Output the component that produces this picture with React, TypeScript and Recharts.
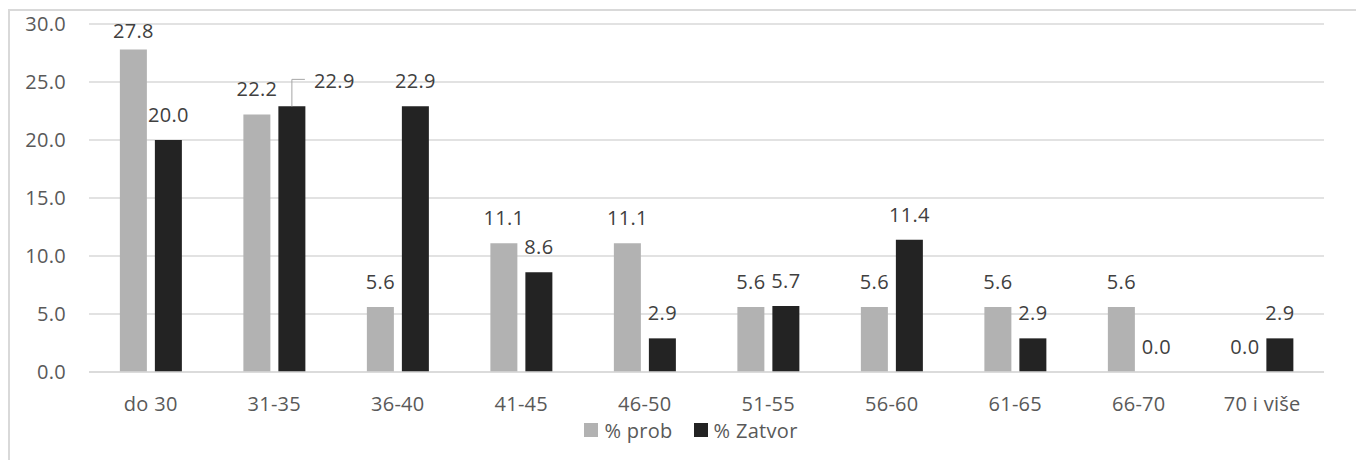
import React from "react";
import { BarChart, Bar, XAxis, YAxis, CartesianGrid, Legend, LabelList } from "recharts";

const categories = ["do 30", "31-35", "36-40", "41-45", "46-50", "51-55", "56-60", "61-65", "66-70", "70 i više"];
const probValues = [27.8, 22.2, 5.6, 11.1, 11.1, 5.6, 5.6, 5.6, 5.6, 0.0];
const zatvorValues = [20.0, 22.9, 22.9, 8.6, 2.9, 5.7, 11.4, 2.9, 0.0, 2.9];
const yTicks = [0, 5, 10, 15, 20, 25, 30];
const seriesNames = ["% prob", "% Zatvor"];
const seriesColors = ["#b2b2b2", "#232323"];
// labels moved aside with a leader line (per series, per index)
const zatvorLabelCallout = [false, true, false, false, false, false, false, false, false, false];

const data = categories.map((c, i) => ({ name: c, prob: probValues[i], zatvor: zatvorValues[i] }));

const FONT = "'Open Sans', sans-serif";
const FS = 20;
const LS = 0.3;
const LABEL_COLOR = "#404040";
const TICK_COLOR = "#595959";

const makeLabel = (callouts: boolean[] | null) => (props: any) => {
  const { x, y, width, height, value, index } = props;
  const cx = Number(x) + Number(width) / 2;
  const h = Number(height) || 0;
  const top = h < 0 ? Number(y) + h : Number(y);
  const text = Number(value).toFixed(1);
  if (callouts && callouts[index]) {
    return (
      <g>
        <polyline
          points={`${cx},${top} ${cx},${top - 27} ${cx + 13},${top - 27}`}
          fill="none"
          stroke="#a6a6a6"
          strokeWidth={1}
        />
        <text x={cx + 22} y={top - 18} textAnchor="start" fill={LABEL_COLOR} fontSize={FS} fontFamily={FONT} letterSpacing={LS}>
          {text}
        </text>
      </g>
    );
  }
  const baseY = Math.max(top - 18, 27);
  return (
    <text x={cx} y={baseY} textAnchor="middle" fill={LABEL_COLOR} fontSize={FS} fontFamily={FONT} letterSpacing={LS}>
      {text}
    </text>
  );
};

const LegendContent = () => (
  <div
    style={{
      display: "flex",
      justifyContent: "center",
      alignItems: "center",
      height: 24,
      paddingLeft: 8,
      fontFamily: FONT,
      fontSize: FS,
      letterSpacing: LS,
      color: TICK_COLOR,
    }}
  >
    {seriesNames.map((n, i) => (
      <div key={n} style={{ display: "flex", alignItems: "center", marginRight: i === 0 ? 21 : 0 }}>
        <span style={{ display: "inline-block", width: 14, height: 14, background: seriesColors[i], marginRight: 6 }} />
        <span>{n}</span>
      </div>
    ))}
  </div>
);

export default function App() {
  return (
    <>
      <style>{`html,body{overflow:hidden;}`}</style>
      <div
        style={{
          position: "relative",
          top: 1,
          width: 1356,
          height: 452,
          boxSizing: "border-box",
          borderTop: "2px solid #d9d9d9",
          borderLeft: "2px solid #d9d9d9",
          background: "#fff",
          overflow: "hidden",
        }}
      >
        <BarChart
          width={1354}
          height={451}
          data={data}
          margin={{ top: 13, right: 40, bottom: 20, left: 0 }}
          barCategoryGap="25%"
          barGap={8}
        >
          <CartesianGrid vertical={false} stroke="#d9d9d9" strokeWidth={1.5} />
          <XAxis
            dataKey="name"
            height={46}
            axisLine={{ stroke: "#d9d9d9", strokeWidth: 1.5 }}
            tickLine={false}
            tickMargin={19}
            interval={0}
            tick={{ fill: TICK_COLOR, fontSize: FS, fontFamily: FONT, letterSpacing: LS }}
          />
          <YAxis
            width={79}
            domain={[0, 30]}
            ticks={yTicks}
            axisLine={false}
            tickLine={false}
            tickMargin={17}
            tickFormatter={(v: number) => v.toFixed(1)}
            tick={{ fill: TICK_COLOR, fontSize: FS, fontFamily: FONT, letterSpacing: LS }}
          />
          <Legend
            verticalAlign="bottom"
            height={24}
            wrapperStyle={{ left: 0, width: 1354 }}
            content={<LegendContent />}
          />
          <Bar dataKey="prob" name={seriesNames[0]} fill={seriesColors[0]} minPointSize={0.01} isAnimationActive={false}>
            <LabelList dataKey="prob" content={makeLabel(null)} />
          </Bar>
          <Bar dataKey="zatvor" name={seriesNames[1]} fill={seriesColors[1]} minPointSize={0.01} isAnimationActive={false}>
            <LabelList dataKey="zatvor" content={makeLabel(zatvorLabelCallout)} />
          </Bar>
        </BarChart>
      </div>
    </>
  );
}
